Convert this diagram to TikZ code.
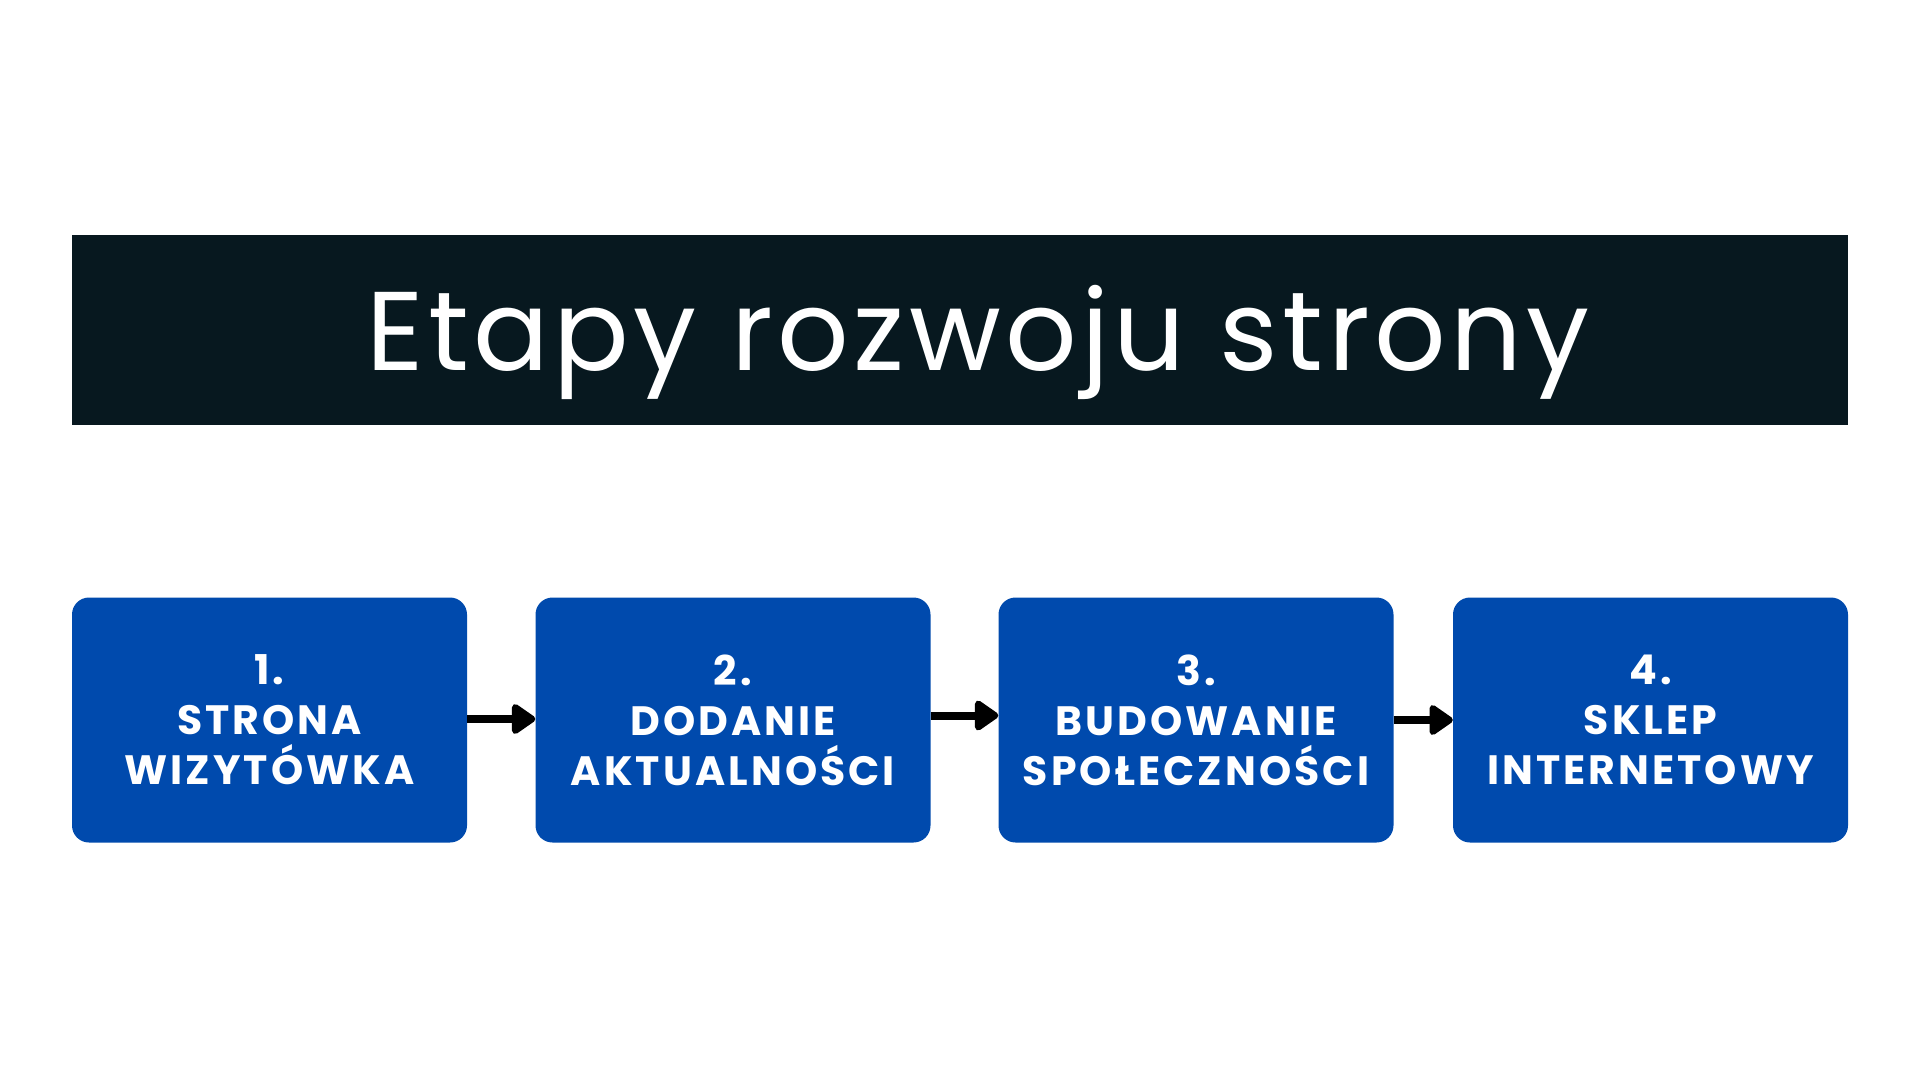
\documentclass[tikz,border=0pt]{standalone}
\usepackage{fontspec}
\setmainfont{Poppins}
\usetikzlibrary{arrows.meta}
\definecolor{barcol}{HTML}{07181F}
\definecolor{boxblue}{HTML}{004AAD}
\tikzset{
  stepbox/.style={fill=boxblue, rounded corners=17pt, minimum width=395pt, minimum height=245pt, inner sep=0pt, draw=none},
  steptext/.style={text=white, align=center, font=\fontsize{41}{50}\selectfont\bfseries\addfontfeatures{LetterSpace=7.5}},
  flow/.style={line width=8pt, draw=black, -{Triangle[length=26pt,width=34pt,round]}, shorten >=0pt}
}
\begin{document}
\begin{tikzpicture}[x=1pt,y=-1pt]
\useasboundingbox (0,0) rectangle (1920,1080);
\fill[white] (0,0) rectangle (1920,1080);
\node[fill=barcol, minimum width=1776pt, minimum height=190pt, inner sep=0pt] (bar) at (960,330) {};
\node[text=white, anchor=base, font=\fontsize{112}{120}\selectfont\addfontfeatures{LetterSpace=4}] (title) at (978,370) {Etapy rozwoju strony};
\node[stepbox] (b1) at (269.5,720) {};
\node[stepbox] (b2) at (733,720) {};
\node[stepbox] (b3) at (1196,720) {};
\node[stepbox] (b4) at (1650.5,720) {};
\node[steptext] (t1) at (b1.center) {1.\\STRONA\\WIZYTÓWKA};
\node[steptext] (t2) at (b2.center) {2.\\DODANIE\\AKTUALNOŚCI};
\node[steptext] (t3) at (b3.center) {3.\\BUDOWANIE\\SPOŁECZNOŚCI};
\node[steptext] (t4) at (b4.center) {4.\\SKLEP\\INTERNETOWY};
\draw[flow] ([yshift=1pt]b1.east) -- ([yshift=1pt]b2.west);
\draw[flow] ([yshift=4.5pt]b2.east) -- ([yshift=4.5pt]b3.west);
\draw[flow] (b3.east) -- (b4.west);
\end{tikzpicture}
\end{document}
